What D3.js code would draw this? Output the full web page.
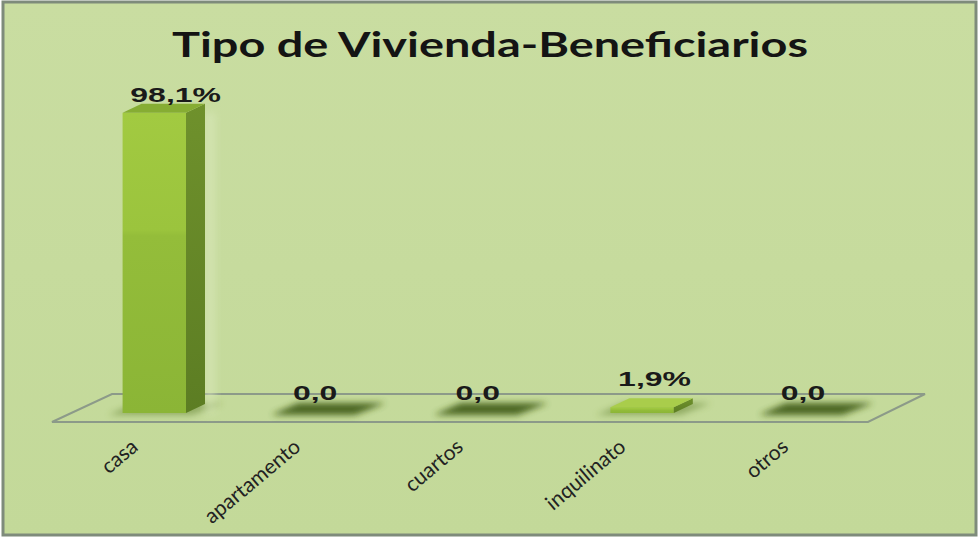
<!DOCTYPE html>
<html>
<head>
<meta charset="utf-8">
<script src="https://cdn.jsdelivr.net/npm/d3@7"></script>
<style>
  html, body { margin: 0; padding: 0; background: #ffffff; }
  svg { display: block; }
</style>
</head>
<body>
<svg id="chart" width="980" height="538"></svg>
<script>
const chartTitle = "Tipo de Vivienda-Beneficiarios";
const categories = ["casa", "apartamento", "cuartos", "inquilinato", "otros"];
const values = [98.1, 0, 0, 1.9, 0];
const valueLabels = ["98,1%", "0,0", "0,0", "1,9%", "0,0"];

const svg = d3.select("#chart");
const defs = svg.append("defs");

const bg = defs.append("linearGradient").attr("id", "bg").attr("x1", 0).attr("y1", 0).attr("x2", 0).attr("y2", 1);
bg.append("stop").attr("offset", "0%").attr("stop-color", "#c9dda1");
bg.append("stop").attr("offset", "100%").attr("stop-color", "#c3d999");

const front = defs.append("linearGradient").attr("id", "front").attr("x1", 0).attr("y1", 0).attr("x2", 0).attr("y2", 1);
front.append("stop").attr("offset", "0%").attr("stop-color", "#a2ca41");
front.append("stop").attr("offset", "39%").attr("stop-color", "#9bc43d");
front.append("stop").attr("offset", "41%").attr("stop-color", "#94bd3a");
front.append("stop").attr("offset", "100%").attr("stop-color", "#8bb536");

const side = defs.append("linearGradient").attr("id", "side").attr("x1", 0).attr("y1", 0).attr("x2", 0).attr("y2", 1);
side.append("stop").attr("offset", "0%").attr("stop-color", "#6f912c");
side.append("stop").attr("offset", "100%").attr("stop-color", "#5c7d23");

const blur = defs.append("filter").attr("id", "blur").attr("x", "-50%").attr("y", "-200%").attr("width", "200%").attr("height", "500%");
blur.append("feGaussianBlur").attr("stdDeviation", 3);

const blurSoft = defs.append("filter").attr("id", "blurSoft").attr("x", "-50%").attr("y", "-50%").attr("width", "200%").attr("height", "200%");
blurSoft.append("feGaussianBlur").attr("stdDeviation", 4);

svg.append("rect").attr("x", 3).attr("y", 2).attr("width", 973).attr("height", 533)
  .attr("fill", "url(#bg)").attr("stroke", "#7e8b7b").attr("stroke-width", 3);

const floorFrontY = 422;
const depth = [57, -28];
const x = d3.scaleBand().domain(categories).range([55, 868]).paddingInner(0).paddingOuter(0);
const y = d3.scaleLinear().domain([0, 100]).range([413, 107]);
const bw = x.bandwidth();
const faceW = bw * 0.39;
const barShift = 18;
const bd = [19, -9];
const SX = 1.6;

const floorPts = [
  [52, floorFrontY],
  [52 + depth[0] + 3, floorFrontY + depth[1]],
  [868 + depth[0], floorFrontY + depth[1]],
  [868, floorFrontY]
];
svg.append("polygon").attr("points", floorPts.map(p => p.join(",")).join(" "))
  .attr("fill", "none").attr("stroke", "#8c9a89").attr("stroke-width", 2);

svg.append("text").attr("x", 490).attr("y", 57).attr("text-anchor", "middle")
  .attr("font-family", "Lato, 'Open Sans', sans-serif").attr("font-weight", "bold")
  .attr("font-size", 35).attr("fill", "#141414")
  .attr("textLength", 636).attr("lengthAdjust", "spacingAndGlyphs")
  .text(chartTitle);

const data = categories.map((c, i) => ({ c, v: values[i], label: valueLabels[i] }));
const g = svg.append("g");

data.forEach(d => {
  const xf = x(d.c) + bw / 2 + barShift - faceW / 2;
  const y0 = y(0), y1 = y(d.v);
  g.append("polygon")
    .attr("points", [[xf - 14, y0 + 2], [xf + bd[0] - 6, y0 + bd[1] - 1], [xf + faceW + bd[0] + 18, y0 + bd[1] - 1], [xf + faceW + 6, y0 + 2]].map(p => p.join(",")).join(" "))
    .attr("fill", d.v === 0 ? "#3f5c14" : "#5d7d2a").attr("opacity", d.v === 0 ? 0.9 : 0.5)
    .attr("filter", "url(#blur)");
  if (d.v > 0) {
    if (d.v > 10) {
      g.append("rect").attr("x", xf + faceW + bd[0]).attr("y", y1)
        .attr("width", 10).attr("height", y0 - y1).attr("fill", "#dbe9bd").attr("opacity", 0.6)
        .attr("filter", "url(#blurSoft)");
    }
    g.append("rect").attr("x", xf).attr("y", y1).attr("width", faceW).attr("height", y0 - y1)
      .attr("fill", "url(#front)");
    g.append("polygon")
      .attr("points", [[xf + faceW, y1], [xf + faceW + bd[0], y1 + bd[1]], [xf + faceW + bd[0], y0 + bd[1]], [xf + faceW, y0]].map(p => p.join(",")).join(" "))
      .attr("fill", "url(#side)");
    g.append("polygon")
      .attr("points", [[xf, y1], [xf + bd[0], y1 + bd[1]], [xf + faceW + bd[0], y1 + bd[1]], [xf + faceW, y1]].map(p => p.join(",")).join(" "))
      .attr("fill", d.v > 10 ? "#86ad33" : "#a9cd4b");
  }
  const ly = d.v === 0 ? y1 - 13 : (d.v > 10 ? y1 - 11 : y1 - 21);
  g.append("text")
    .attr("transform", `translate(${x(d.c) + bw / 2 - 6},${ly}) scale(${SX},1)`)
    .attr("font-family", "'Liberation Sans', Arial, sans-serif").attr("font-weight", "bold")
    .attr("font-size", 20).attr("fill", "#1a1a1a")
    .text(d.label);
});

svg.append("g").selectAll("text").data(categories).join("text")
  .attr("transform", c => `translate(${x(c) + bw / 2 + 3},449) rotate(-40)`)
  .attr("text-anchor", "end")
  .attr("font-family", "Lato, 'Open Sans', sans-serif")
  .attr("font-size", 21).attr("fill", "#222")
  .text(c => c);
</script>
</body>
</html>
